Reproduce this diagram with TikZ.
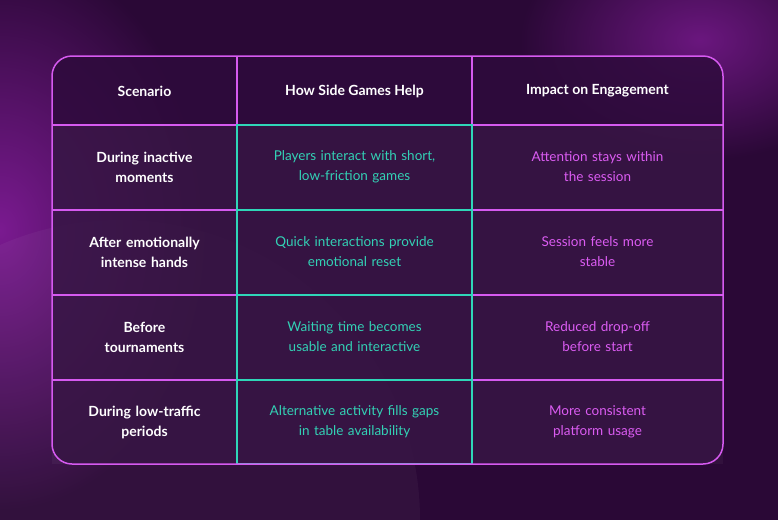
\documentclass[tikz,border=0pt]{standalone}
\usepackage{fontspec}
\setmainfont{Lato}
\usetikzlibrary{positioning}
\definecolor{bgdark}{HTML}{2A0836}
\definecolor{bglight}{HTML}{7A1A90}
\definecolor{cellfill}{HTML}{2E0B3C}
\definecolor{magline}{HTML}{D65AF0}
\definecolor{tealline}{HTML}{2FD6B8}
\definecolor{tealtext}{HTML}{33D1B5}
\definecolor{magtext}{HTML}{DB5CF2}

\begin{document}
\begin{tikzpicture}[x=1pt,y=-1pt,
    head/.style={text=white,font=\bfseries\fontsize{14}{17}\selectfont,align=center},
    scen/.style={text=white,font=\bfseries\fontsize{14}{20}\selectfont,align=center,text width=170pt},
    helps/.style={text=tealtext,font=\fontsize{13.5}{20}\selectfont,align=center,text width=225pt},
    impact/.style={text=magtext,font=\fontsize{13.5}{20}\selectfont,align=center,text width=230pt}]
    \useasboundingbox (0,0) rectangle (778,520);
    % background
    \fill[bgdark] (0,0) rectangle (778,520);
    \shade[inner color=bglight,outer color=bgdark] (0,230) ellipse (210 and 280);
    \shade[inner color=bglight!80!bgdark,outer color=bgdark] (700,40) ellipse (180 and 120);
    \fill[white,opacity=0.04] (120,520) circle (300);

    % table
    \fill[cellfill,opacity=0.85,rounded corners=20pt] (52,56) rectangle (723,464);
    \fill[white,opacity=0.04] (52,125) rectangle (723,464);
    \draw[magline,line width=1.2pt] (52,125) -- (723,125);
    \foreach \y in {210,295,380}
        \draw[magline,line width=1.2pt] (52,\y) -- (723,\y);
    \draw[magline,line width=1.2pt] (237,56) -- (237,125) (472,56) -- (472,125);
    \draw[magline,line width=1.2pt] (237,380) -- (237,464) (472,380) -- (472,464);
    \draw[tealline,line width=1.2pt] (237,125) rectangle (472,464);
    \foreach \y in {210,295,380}
        \draw[tealline,line width=1.2pt] (237,\y) -- (472,\y);
    \draw[magline,line width=1.5pt,rounded corners=20pt] (52,56) rectangle (723,464);

    % header
    \node[head] (h1) at (144.5,91) {Scenario};
    \node[head] (h2) at (354.5,91) {How Side Games Help};
    \node[head] (h3) at (597.5,91) {Impact on Engagement};

    % rows
    \node[scen] (s1) at (144.5,167) {During inactive\\moments};
    \node[helps] (p1) at (354.5,167) {Players interact with short,\\low-friction games};
    \node[impact] (i1) at (597.5,167) {Attention stays within\\the session};

    \node[scen] (s2) at (144.5,252) {After emotionally\\intense hands};
    \node[helps] (p2) at (354.5,252) {Quick interactions provide\\emotional reset};
    \node[impact] (i2) at (597.5,252) {Session feels more\\stable};

    \node[scen] (s3) at (144.5,337) {Before\\tournaments};
    \node[helps] (p3) at (354.5,337) {Waiting time becomes\\usable and interactive};
    \node[impact] (i3) at (597.5,337) {Reduced drop-off\\before start};

    \node[scen] (s4) at (144.5,422) {During low-traffic\\periods};
    \node[helps] (p4) at (354.5,422) {Alternative activity fills gaps\\in table availability};
    \node[impact] (i4) at (597.5,422) {More consistent\\platform usage};
\end{tikzpicture}
\end{document}
